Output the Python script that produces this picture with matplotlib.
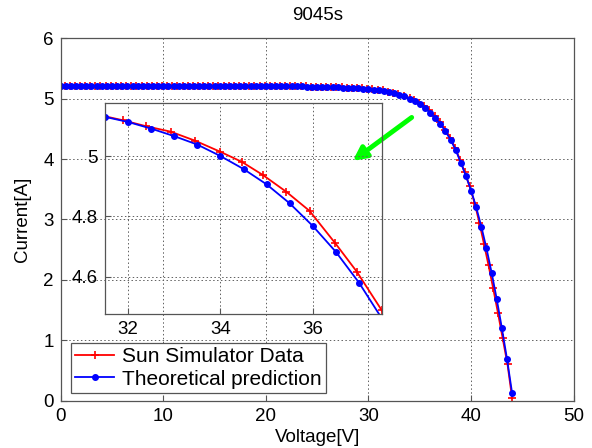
import matplotlib
matplotlib.use("Agg")
import matplotlib.pyplot as plt

plt.rcParams['font.family'] = ['Liberation Sans', 'DejaVu Sans']

# theoretical prediction (blue)
theory_v = [0.0, 0.5, 1.0, 1.5, 2.0, 2.5, 3.0, 3.5, 4.0, 4.5,
            5.0, 5.5, 6.0, 6.5, 7.0, 7.5, 8.0, 8.5, 9.0, 9.5,
            10.0, 10.5, 11.0, 11.5, 12.0, 12.5, 13.0, 13.5, 14.0, 14.5,
            15.0, 15.5, 16.0, 16.5, 17.0, 17.5, 18.0, 18.5, 19.0, 19.5,
            20.0, 20.5, 21.0, 21.5, 22.0, 22.5, 23.0, 23.5, 24.0, 24.5,
            25.0, 25.5, 26.0, 26.5, 27.0, 27.5, 28.0, 28.5, 29.0, 29.5,
            30.0, 30.5, 31.0, 31.5, 32.0, 32.5, 33.0, 33.5, 34.0, 34.5,
            35.0, 35.5, 36.0, 36.5, 37.0, 37.5, 38.0, 38.5, 39.0, 39.5,
            40.0, 40.5, 41.0, 41.5, 42.0, 42.5, 43.0, 43.5, 44.0]
theory_i = [5.21, 5.21, 5.21, 5.21, 5.21, 5.21, 5.21, 5.21, 5.21, 5.21,
            5.21, 5.21, 5.21, 5.21, 5.21, 5.21, 5.21, 5.21, 5.21, 5.21,
            5.21, 5.21, 5.21, 5.21, 5.21, 5.21, 5.21, 5.21, 5.21, 5.21,
            5.21, 5.21, 5.21, 5.21, 5.21, 5.21, 5.21, 5.21, 5.21, 5.21,
            5.21, 5.21, 5.21, 5.21, 5.205, 5.205, 5.205, 5.205, 5.20, 5.20,
            5.20, 5.195, 5.195, 5.19, 5.19, 5.185, 5.18, 5.175, 5.17, 5.165,
            5.16, 5.152, 5.142, 5.13, 5.113, 5.091, 5.066, 5.038, 5.0, 4.957,
            4.906, 4.843, 4.768, 4.682, 4.58, 4.46, 4.32, 4.15, 3.94, 3.72,
            3.48, 3.20, 2.88, 2.52, 2.12, 1.68, 1.20, 0.69, 0.12]

# sun simulator measurements (red)
sim_v = [0.38, 0.88, 1.38, 1.88, 2.38, 2.88, 3.38, 3.88, 4.38, 4.88,
         5.38, 5.88, 6.38, 6.88, 7.38, 7.88, 8.38, 8.88, 9.38, 9.88,
         10.38, 10.88, 11.38, 11.88, 12.38, 12.88, 13.38, 13.88, 14.38, 14.88,
         15.38, 15.88, 16.38, 16.88, 17.38, 17.88, 18.38, 18.88, 19.38, 19.88,
         20.38, 20.88, 21.38, 21.88, 22.38, 22.88, 23.38, 23.88, 24.38, 24.88,
         25.38, 25.88, 26.38, 26.88, 27.38, 27.88, 28.38, 28.88, 29.38, 29.88,
         30.38, 30.88, 31.38, 31.88, 32.39, 32.92, 33.45, 34.0, 34.46, 34.92,
         35.43, 35.93, 36.49, 36.95, 37.49, 37.98, 38.45, 38.92, 39.38, 39.86,
         40.33, 40.80, 41.25, 41.70, 42.15, 42.62, 43.08, 43.55, 44.0]
sim_i = [5.21, 5.21, 5.21, 5.21, 5.21, 5.21, 5.21, 5.21, 5.21, 5.21,
         5.21, 5.21, 5.21, 5.21, 5.21, 5.21, 5.21, 5.21, 5.21, 5.21,
         5.21, 5.21, 5.21, 5.21, 5.21, 5.21, 5.21, 5.21, 5.21, 5.21,
         5.21, 5.21, 5.21, 5.21, 5.21, 5.21, 5.21, 5.21, 5.21, 5.21,
         5.21, 5.21, 5.21, 5.21, 5.21, 5.205, 5.205, 5.205, 5.20, 5.20,
         5.20, 5.195, 5.195, 5.19, 5.19, 5.185, 5.18, 5.175, 5.17, 5.165,
         5.158, 5.15, 5.136, 5.119, 5.099, 5.081, 5.051, 5.014, 4.981, 4.937,
         4.881, 4.818, 4.710, 4.617, 4.489, 4.35, 4.18, 3.99, 3.78, 3.55,
         3.28, 2.95, 2.60, 2.24, 1.86, 1.45, 1.03, 0.60, 0.04]

main_xticks = [0, 10, 20, 30, 40, 50]
main_yticks = [0, 1, 2, 3, 4, 5, 6]
inset_xticks = [32, 34, 36]
inset_yticks = [4.6, 4.8, 5]

spine_col = '#555555'
grid_kw = dict(color='#606060', linestyle=(0, (1.5, 2.5)), linewidth=0.7)
fs = 13.5


def style(ax):
    for s in ax.spines.values():
        s.set_color(spine_col)
        s.set_linewidth(0.9)
    ax.tick_params(direction='in', length=4, color=spine_col, labelsize=fs,
                   pad=5)
    ax.grid(True, **grid_kw)


def draw(ax):
    ax.plot(sim_v, sim_i, color='red', marker='+', markersize=6,
            markeredgewidth=1.2, linewidth=1.3, label='Sun Simulator Data')
    ax.plot(theory_v, theory_i, color='blue', marker='o', markersize=4,
            linewidth=1.3, label='Theoretical prediction')


fig = plt.figure(figsize=(5.92, 4.48), dpi=100)
ax = fig.add_axes([0.1025, 0.1056, 0.8666, 0.8089])
draw(ax)
ax.set_xlim(0, 50)
ax.set_ylim(0, 6)
ax.set_xticks(main_xticks)
ax.set_yticks(main_yticks)
style(ax)
ax.set_title('9045s', fontsize=fs, pad=13)
ax.set_xlabel('Voltage[V]', fontsize=fs, labelpad=3)
ax.set_ylabel('Current[A]', fontsize=fs, labelpad=9)

ax.annotate('', xy=(28.46, 3.97), xytext=(34.21, 4.69),
            arrowprops=dict(arrowstyle='-|>', color='#00ff00', lw=3.5,
                            mutation_scale=20, shrinkA=0, shrinkB=0))

leg = ax.legend(loc='lower left', bbox_to_anchor=(0.1194, 0.1234),
                bbox_transform=fig.transFigure, borderaxespad=0,
                fontsize=15, fancybox=False, framealpha=1,
                edgecolor=spine_col, handlelength=1.9, borderpad=0.2,
                labelspacing=0.15, handletextpad=0.35)
leg.get_frame().set_linewidth(0.9)

ins = fig.add_axes([0.1774, 0.2991, 0.468, 0.4703], facecolor='none')
draw(ins)
ins.set_xlim(31.5, 37.5)
ins.set_ylim(4.476, 5.175)
ins.set_xticks(inset_xticks)
ins.set_yticks(inset_yticks)
ins.set_yticklabels(['4.6', '4.8', '5'])
style(ins)

fig.savefig('out.png', dpi=100)
